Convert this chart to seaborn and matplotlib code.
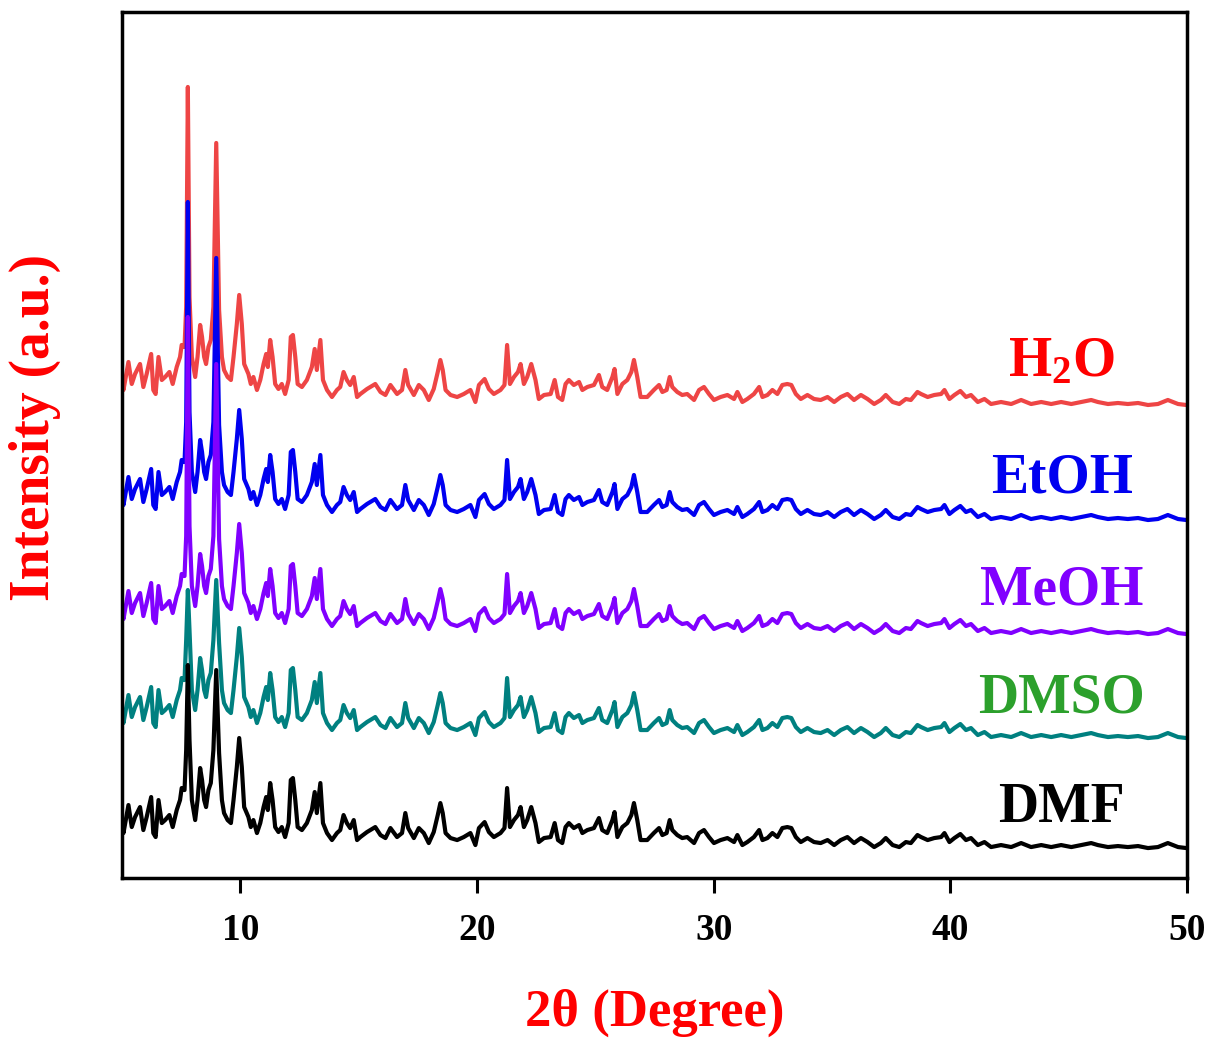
import matplotlib
matplotlib.use("Agg")
import matplotlib.pyplot as plt
import numpy as np
import pandas as pd
import seaborn as sns

# ---------------- data ----------------
two_theta = [5.00, 5.06, 5.27, 5.41, 5.55, 5.76, 5.90, 6.04, 6.23, 6.32, 6.42, 6.54, 6.68, 6.82,
             7.00, 7.14, 7.31, 7.45, 7.52, 7.64, 7.71, 7.78, 7.85, 7.95, 8.09, 8.19, 8.30, 8.38,
             8.47, 8.55, 8.65, 8.75, 8.86, 8.98, 9.10, 9.22, 9.31, 9.46, 9.60, 9.71, 9.85, 9.95,
             10.06, 10.16, 10.34, 10.44, 10.55, 10.70, 10.84, 10.98, 11.09, 11.16, 11.26, 11.36,
             11.47, 11.61, 11.75, 11.89, 12.04, 12.13, 12.22, 12.32, 12.42, 12.60, 12.81, 13.02,
             13.14, 13.23, 13.38, 13.49, 13.66, 13.87, 14.08, 14.22, 14.36, 14.50, 14.64, 14.79,
             14.93, 15.07, 15.35, 15.70, 15.92, 16.13, 16.34, 16.62, 16.83, 16.97, 17.09, 17.33,
             17.54, 17.75, 17.96, 18.17, 18.34, 18.45, 18.55, 18.67, 18.88, 19.16, 19.44, 19.72,
             19.93, 20.08, 20.32, 20.50, 20.71, 20.99, 21.16, 21.27, 21.39, 21.56, 21.73, 21.84,
             21.98, 22.12, 22.29, 22.47, 22.61, 22.83, 23.11, 23.28, 23.42, 23.60, 23.74, 23.88,
             24.09, 24.31, 24.45, 24.66, 24.94, 25.15, 25.29, 25.50, 25.72, 25.81, 25.93, 26.14,
             26.35, 26.52, 26.63, 26.77, 26.91, 27.19, 27.47, 27.69, 27.83, 28.01, 28.14, 28.25,
             28.46, 28.67, 28.88, 29.17, 29.38, 29.59, 29.80, 30.01, 30.29, 30.58, 30.86, 31.00,
             31.21, 31.42, 31.70, 31.92, 32.06, 32.27, 32.48, 32.69, 32.90, 33.11, 33.28, 33.47,
             33.68, 33.96, 34.24, 34.52, 34.81, 35.09, 35.37, 35.65, 35.93, 36.22, 36.50, 36.78,
             37.06, 37.27, 37.56, 37.84, 38.12, 38.33, 38.61, 38.76, 39.04, 39.32, 39.61, 39.75,
             39.96, 40.17, 40.42, 40.66, 40.87, 41.16, 41.44, 41.72, 42.14, 42.57, 42.99, 43.41,
             43.84, 44.26, 44.68, 45.11, 45.53, 45.95, 46.23, 46.66, 47.08, 47.50, 47.93, 48.35,
             48.77, 49.19, 49.62, 49.97]

# common diffraction pattern (intensity, a.u.) shared by all samples
pattern = [53, 45, 73, 51, 61, 71, 48, 61, 81, 45, 41, 78, 55, 58,
           63, 51, 68, 78, 90, 88, 128, 213, 138, 78, 58, 78, 110, 98,
           78, 71, 88, 95, 128, 208, 125, 78, 65, 58, 55, 78, 111, 140,
           111, 71, 61, 51, 58, 45, 55, 71, 81, 68, 95, 78,
           51, 46, 51, 41, 55, 98, 100, 78, 51, 48, 55, 68,
           86, 65, 95, 55, 45, 38, 45, 48, 63, 55, 50, 58,
           38, 41, 46, 51, 43, 40, 50, 41, 45, 65, 50, 40,
           50, 45, 35, 46, 63, 75, 65, 45, 40, 38, 41, 45,
           33, 50, 56, 46, 41, 45, 50, 90, 51, 58, 63, 71,
           51, 58, 71, 55, 36, 40, 41, 55, 38, 35, 51, 55,
           50, 53, 45, 48, 50, 60, 48, 45, 58, 66, 41, 51,
           55, 63, 75, 58, 38, 38, 45, 50, 43, 45, 58, 48,
           43, 40, 41, 35, 45, 48, 41, 35, 38, 40, 36, 43,
           33, 36, 41, 48, 38, 40, 45, 41, 50, 51, 50, 41,
           36, 40, 36, 35, 38, 33, 38, 41, 35, 40, 36, 31,
           35, 40, 33, 31, 36, 35, 43, 41, 38, 40, 41, 45,
           36, 40, 44, 38, 40, 33, 36, 31, 33, 31, 35, 31,
           33, 31, 33, 31, 33, 35, 33, 31, 32, 31, 32, 30,
           31, 35, 31, 30]

samples = ["H2O", "EtOH", "MeOH", "DMSO", "DMF"]
offsets = [443, 328, 214, 110, 0]
peak_7_8 = [348, 348, 347, 178, 213]     # intensity of the 7.8 deg reflection
peak_9_0 = [292, 292, 300, 188, 208]     # intensity of the 9.0 deg reflection
line_colors = ["#EE4545", "#0000F0", "#8000FF", "#008080", "#000000"]
label_texts = ["H$_\\mathrm{2}$O", "EtOH", "MeOH", "DMSO", "DMF"]
label_colors = ["#FF0000", "#0000F0", "#8000FF", "#2CA02C", "#000000"]
label_y = [516, 400, 288, 180, 70]
label_x = 44.7
x_ticks = [10, 20, 30, 40, 50]

# ---------------- build long table ----------------
i78 = two_theta.index(7.78)
i90 = two_theta.index(8.98)
frames = []
for k, s in enumerate(samples):
    y = list(pattern)
    y[i78] = peak_7_8[k]
    y[i90] = peak_9_0[k]
    frames.append(pd.DataFrame({"two_theta": two_theta,
                                "intensity": np.array(y) + offsets[k],
                                "sample": s}))
df = pd.concat(frames, ignore_index=True)

# ---------------- style ----------------
sns.set_theme(style="ticks")
plt.rcParams["font.family"] = ["Liberation Serif", "DejaVu Serif"]
plt.rcParams["font.weight"] = "bold"
plt.rcParams["mathtext.fontset"] = "custom"
plt.rcParams["mathtext.rm"] = "Liberation Serif:bold"
plt.rcParams["mathtext.bf"] = "Liberation Serif:bold"
plt.rcParams["mathtext.it"] = "Liberation Serif:bold:italic"

fig = plt.figure(figsize=(12.12, 10.39), dpi=100)
ax = fig.add_axes([0.1007, 0.1549, 0.8787, 0.8336])

for k, s in enumerate(samples):
    sns.lineplot(data=df[df["sample"] == s], x="two_theta", y="intensity",
                 color=line_colors[k], linewidth=3.0, sort=False,
                 estimator=None, ax=ax, legend=False)
    ax.text(label_x, label_y[k], label_texts[k], color=label_colors[k],
            fontsize=40, fontweight="bold", ha="center", va="center")

ax.set_xlim(5, 50)
ax.set_ylim(0, 866)
ax.set_xticks(x_ticks)
ax.set_xticklabels([str(t) for t in x_ticks], fontsize=27, fontweight="bold")
ax.set_yticks([])
ax.tick_params(axis="x", direction="out", length=11, width=2.2, pad=14, colors="black")
for sp in ax.spines.values():
    sp.set_linewidth(2.5)
    sp.set_color("black")
xl = ax.set_xlabel("2θ (Degree)", fontsize=38, fontweight="bold", color="red")
ax.xaxis.set_label_coords(0.5, -0.156)
xl.set_va("center")
yl = ax.set_ylabel("Intensity (a.u.)", fontsize=40, fontweight="bold", color="red")
ax.yaxis.set_label_coords(-0.082, 0.52)
yl.set_va("center")

fig.savefig("out.png", dpi=100)
